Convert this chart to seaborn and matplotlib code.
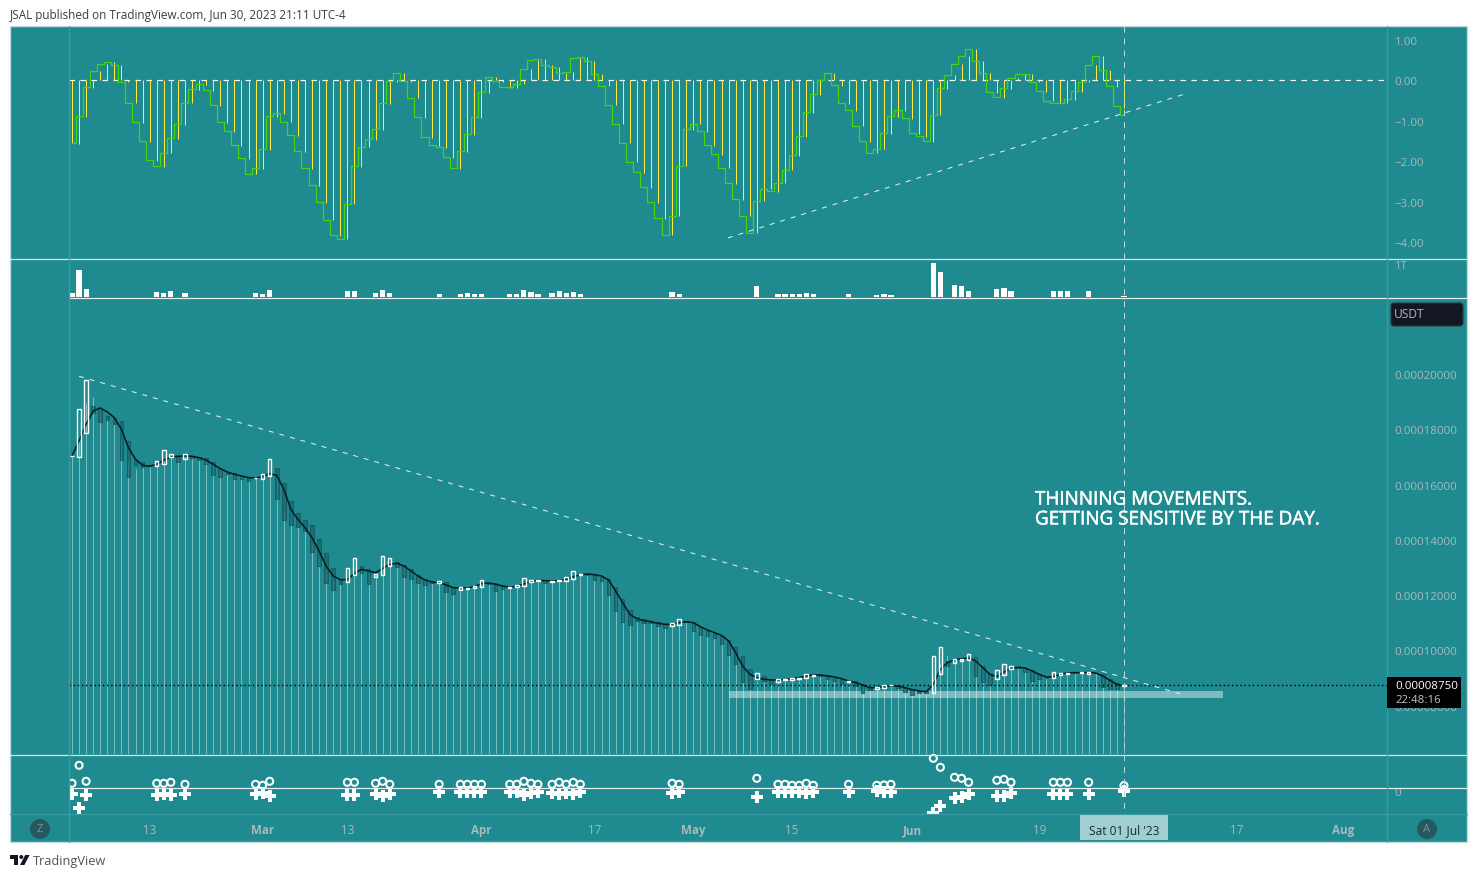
import numpy as np
import matplotlib
matplotlib.use("Agg")
import matplotlib.pyplot as plt
import matplotlib.patheffects as pe
import seaborn as sns
from matplotlib.lines import Line2D
from matplotlib.patches import Rectangle, FancyBboxPatch, Polygon
from matplotlib.transforms import Affine2D

# ---------- data ----------
OSC_LINE = [-1.56,-0.89,-0.17,0.22,0.40,0.45,0.37,-0.05,-0.55,-1.04,-1.51,-1.98,-2.13,-1.79,-1.44,-1.09,-0.55,-0.22,-0.10,-0.25,
 -0.62,-1.04,-1.26,-1.61,-1.93,-2.31,-2.18,-1.71,-0.89,-0.82,-1.02,-1.36,-1.76,-2.18,-2.60,-3.02,-3.45,-3.84,-3.92,-3.05,
 -2.13,-1.64,-1.46,-1.21,-0.57,-0.02,0.17,-0.02,-0.45,-0.92,-1.41,-1.61,-1.66,-1.91,-2.18,-1.76,-1.34,-0.92,-0.30,0.07,
 -0.02,-0.17,-0.17,-0.10,0.27,0.50,0.52,0.37,0.32,0.17,0.20,0.55,0.57,0.47,0.15,-0.15,-0.60,-1.07,-1.54,-2.01,
 -2.28,-2.65,-3.02,-3.42,-3.82,-3.35,-2.11,-1.21,-1.07,-1.26,-1.61,-1.83,-2.16,-2.55,-2.95,-3.35,-3.77,-2.98,-2.68,-2.75,
 -2.53,-2.21,-1.86,-1.39,-0.79,-0.35,0.00,0.17,-0.12,-0.57,-0.74,-1.12,-1.51,-1.79,-1.69,-1.31,-0.89,-0.74,-0.94,-1.31,
 -1.39,-1.51,-0.86,-0.20,0.12,0.40,0.60,0.77,0.47,0.17,-0.30,-0.42,-0.20,0.05,0.16,0.16,-0.03,-0.27,-0.50,-0.55,
 -0.55,-0.47,-0.27,-0.03,0.37,0.60,0.25,-0.15,-0.64,-0.86]
OSC_BARS = [-1.54,-1.57,-0.90,-0.19,0.23,0.40,0.45,0.38,-0.05,-0.55,-1.05,-1.52,-1.99,-2.14,-1.80,-1.45,-1.10,-0.55,-0.23,-0.11,
 -0.26,-0.63,-1.05,-1.27,-1.62,-1.94,-2.32,-2.19,-1.72,-0.90,-0.83,-1.03,-1.37,-1.77,-2.19,-2.61,-3.03,-3.45,-3.85,-3.93,
 -3.06,-2.14,-1.65,-1.47,-1.22,-0.58,-0.03,0.17,-0.03,-0.45,-0.93,-1.42,-1.62,-1.67,-1.92,-2.19,-1.77,-1.35,-0.93,-0.31,
 0.07,-0.03,-0.18,-0.18,-0.10,0.27,0.50,0.52,0.37,0.32,0.17,0.20,0.55,0.57,0.47,0.15,-0.15,-0.61,-1.08,-1.55,
 -2.02,-2.29,-2.66,-3.03,-3.43,-3.83,-3.36,-2.12,-1.22,-1.08,-1.27,-1.62,-1.84,-2.17,-2.56,-2.96,-3.36,-3.78,-2.99,-2.69,
 -2.76,-2.54,-2.22,-1.87,-1.40,-0.80,-0.36,0.00,0.17,-0.13,-0.58,-0.75,-1.13,-1.52,-1.80,-1.70,-1.32,-0.90,-0.75,-0.95,
 -1.32,-1.40,-1.52,-0.87,-0.21,0.12,0.40,0.60,0.77,0.47,0.17,-0.31,-0.43,-0.21,0.05,0.16,0.16,-0.04,-0.28,-0.50,
 -0.55,-0.55,-0.48,-0.28,-0.04,0.37,0.60,0.25,-0.16,-0.68]

VOL_DAYS = [0,1,2,12,13,14,16,26,27,28,39,40,43,44,45,52,55,56,57,58,62,63,64,65,66,68,69,70,71,72,85,86,97,
            100,101,102,103,104,105,110,114,115,116,122,123,125,126,127,131,132,133,139,140,141,144,149]
VOL_T = [.12,.79,.24,.15,.12,.18,.12,.12,.09,.21,.18,.18,.12,.21,.12,.09,.09,.12,.09,.09,.09,.09,.21,.15,.09,.12,.18,.12,.15,.09,.15,.09,.33,
         .09,.09,.09,.09,.12,.09,.09,.06,.09,.06,1.03,.73,.36,.33,.18,.24,.27,.18,.18,.18,.18,.18,.03]

CANDLE_OPEN = [17025,17018,17888,18864,18780,18502,18429,18321,17596,16944,16835,16726,16678,16750,17004,17016,16944,17040,17016,16968,
 16823,16581,16460,16436,16328,16255,16225,16219,16315,16617,16074,15421,14987,14733,14552,14044,13537,12993,12595,12474,
 12728,13054,12957,12655,12729,13056,13201,13080,12935,12717,12597,12488,12440,12488,12282,12186,12228,12258,12295,12452,
 12452,12343,12264,12295,12331,12476,12518,12548,12482,12515,12512,12584,12732,12778,12741,12657,12597,12307,11872,11473,
 11207,11147,11062,11026,10954,10881,10917,11050,11026,10845,10700,10603,10519,10374,10132,9806,9335,8961,9070,8949,
 8852,8931,8925,8967,8997,9076,9130,9094,9046,8949,8859,8889,8768,8647,8611,8635,8732,8732,8647,8587,
 8526,8514,8454,9142,9613,9553,9625,9662,9758,9432,9130,8961,9106,9323,9384,9360,9287,9130,9046,8997,
 9118,9154,9191,9185,9142,9191,9154,8949,8828,8720]
CANDLE_CLOSE = [17055,18757,19808,18599,18272,18345,18200,16895,16291,16714,16641,16666,16859,17270,17125,16823,17113,16968,16895,16750,
 16340,16279,16376,16195,16195,16134,16260,16400,16944,15482,14721,14540,14467,14310,13561,13054,12438,12184,12401,12993,
 13356,12800,12401,12776,13430,13358,13019,12657,12572,12427,12367,12440,12524,12113,12041,12307,12264,12343,12560,12391,
 12150,12222,12300,12379,12633,12560,12554,12440,12518,12533,12669,12886,12750,12729,12548,12512,12005,11425,11026,10917,
 11062,10990,11002,10869,10809,11002,11147,11026,10700,10543,10507,10446,10217,9830,9504,8852,8598,9191,8889,8780,
 8973,8967,9009,9003,9154,9112,9070,8949,8889,8780,8895,8707,8466,8562,8683,8744,8756,8635,8490,8381,
 8466,8466,9807,10133,9432,9698,9698,9879,9070,8852,8756,9299,9517,9444,9360,9215,8889,8973,8997,9227,
 9191,9178,9179,9197,9227,9166,8683,8611,8611,8750]
EMA = [17040,17584,18188,18671,18780,18635,18429,18007,17342,16919,16702,16666,16738,16883,17004,17028,17040,17028,16980,16895,
 16738,16581,16460,16376,16315,16255,16243,16291,16400,16340,15832,15107,14745,14443,14080,13597,13054,12691,12558,12558,
 12788,12933,12873,12812,12959,13116,13152,13056,12874,12693,12548,12476,12452,12367,12270,12258,12258,12307,12415,12440,
 12391,12331,12282,12319,12403,12488,12536,12524,12512,12524,12572,12669,12729,12766,12741,12693,12548,12150,11727,11304,
 11147,11074,11038,10978,10942,10942,11002,11038,11002,10857,10736,10640,10543,10338,9915,9431,9130,9009,8949,8925,
 8925,8937,8973,9009,9070,9106,9106,9070,9034,8973,8889,8828,8744,8647,8647,8683,8719,8707,8647,8575,
 8526,8502,8768,9311,9553,9650,9698,9722,9613,9372,9130,9046,9215,9348,9384,9360,9251,9130,9034,9046,
 9130,9179,9191,9191,9191,9179,9070,8913,8768,8695]
COLUMN_TOP = [16990,17705,18973,19190,18792,18369,18188,17644,16859,16557,16680,16660,16700,16900,17100,16980,17040,17028,16960,16860,
 16700,16520,16400,16340,16280,16225,16225,16250,16380,16300,15000,14700,14500,14320,13900,13400,12900,12500,12440,12500,
 12700,12860,12830,12700,13000,13080,13152,13000,12800,12620,12500,12450,12430,12300,12210,12220,12240,12270,12380,12400,
 12350,12300,12270,12300,12380,12470,12520,12500,12490,12510,12540,12620,12735,12760,12700,12620,12500,12000,11450,11000,
 11100,11040,11020,10950,10910,10900,10950,11040,10950,10790,10700,10600,10480,10200,9800,9200,8900,8880,8900,8880,
 8900,8930,8950,8990,9040,9080,9080,9040,8990,8930,8860,8790,8700,8620,8620,8650,8700,8680,8600,8540,
 8500,8490,9009,9553,9819,9650,9660,9700,9760,9300,9060,9000,9170,9320,9370,9340,9210,9090,9010,9010,
 9110,9160,9180,9180,9170,9170,9000,8870,8740,8690]

MARK_DAYS = [0,1,2,12,13,14,16,26,27,28,39,40,43,44,45,52,55,56,57,58,62,63,64,65,66,68,69,70,71,72,85,86,97,
             100,101,102,103,104,105,110,114,115,116,122,123,125,126,127,131,132,133,139,140,141,144,149]
MARK_RING = [4,22,6,4,4,5,3,3,2,6,5,5,4,6,3,3,3,3,3,3,3,3,6,4,3,3,5,3,5,3,4,3,9,
             3,3,2,2,4,2,3,2,2.3,3,29,20,10,9,5,7,8,5,5,5,5,5,1.7]
MARK_PLUS = [-6.7,-20.7,-7.7,-7.7,-6.7,-7.7,-6.7,-6.7,-5.7,-8.7,-7.7,-7.7,-6.7,-8.7,-6.7,-5,-5,-5,-5,-5,-5,-5,-7.3,-6,-5,-6,-7,-6,-7,-5,-6,-5,-9.3,
             -5,-5,-5,-5,-6,-5,-5,-3.3,-4.3,-5,-25.7,-18.3,-10.7,-9.7,-6.7,-8.3,-9,-6,-6.7,-6.7,-6.7,-6.7,-3.3]

OSC_TICKS = [1, 0, -1, -2, -3, -4]
OSC_LABELS = ["1.00", "0.00", "\u22121.00", "\u22122.00", "\u22123.00", "\u22124.00"]
PRICE_TICKS = [8000, 10000, 12000, 14000, 16000, 18000, 20000]
TIME_TICKS = [11, 27, 39, 58, 74, 88, 102, 119, 137, 149, 165, 180]
TIME_LABELS = ["13", "Mar", "13", "Apr", "17", "May", "15", "Jun", "19", "Jul", "17", "Aug"]
MONTHS = {"Mar", "Apr", "May", "Jun", "Jul", "Aug"}
LAST_PRICE = 8750

TEAL = "#1f8a90"
PALE = "#cfe6e8"
FAINT = "#3f9a9f"
TICK = "#a7babc"
YELLOW = "#ffec3d"
GREEN = "#43d30f"
W, H = 1477, 879

sns.set_theme(style="white")
plt.rcParams["font.family"] = ["Open Sans", "DejaVu Sans"]
plt.rcParams["lines.scale_dashes"] = False
plt.rcParams["axes.unicode_minus"] = False

fig = plt.figure(figsize=(W / 100, H / 100), dpi=100, facecolor="white")
PX = Affine2D().scale(1 / W, -1 / H).translate(0, 1) + fig.transFigure


def pane(y0, y1, ylim):
    ax = fig.add_axes([69 / W, 1 - y1 / H, (1387 - 69) / W, (y1 - y0) / H])
    ax.set_facecolor("none")
    for s in ax.spines.values():
        s.set_visible(False)
    ax.set_xlim((69 - 72) / 7.06, (1387 - 72) / 7.06)
    ax.set_ylim(*ylim)
    ax.set_xticks([])
    ax.yaxis.tick_right()
    ax.tick_params(axis="y", length=0, pad=5.6, labelsize=8.25, labelcolor=TICK)
    return ax


def rect(x0, y0, x1, y1, **kw):
    fig.add_artist(Rectangle((x0, y0), x1 - x0, y1 - y0, transform=PX, **kw))


def line(xs, ys, **kw):
    fig.add_artist(Line2D(xs, ys, transform=PX, **kw))


def text(x, y, s, **kw):
    return fig.text(x / W, 1 - y / H, s, **kw)


# backdrop
rect(10, 27, 1467, 843.5, facecolor=TEAL, edgecolor="#c3dcde", lw=1.0, zorder=-1)

ax_osc = pane(27, 259, (-4.398, 1.344))
ax_vol = pane(259, 298, (0, 39 / 33))
ax_main = pane(298, 755, (6243, 22800))
ax_mark = pane(755, 815, (-26.7, 33.3))

days = np.arange(len(OSC_LINE))

# oscillator
ax_osc.vlines(days, 0, OSC_BARS, color=YELLOW, lw=0.72, zorder=2)
sns.lineplot(x=days, y=OSC_LINE, ax=ax_osc, color=GREEN, lw=0.9, drawstyle="steps-mid",
             estimator=None, errorbar=None, zorder=3)
ax_osc.axhline(0, color="white", lw=0.85, ls=(0, (3.96, 3.96)), zorder=1)
ax_osc.plot([92.9, 157.6], [-3.90, -0.34], color="#dfeced", lw=0.75, ls=(0, (3.6, 4.3)), zorder=4)
ax_osc.set_ylabel("")
ax_osc.set_yticks(OSC_TICKS, OSC_LABELS)

# volume
sns.barplot(x=VOL_DAYS, y=VOL_T, ax=ax_vol, native_scale=True, color="white", saturation=1,
            width=0.74, errorbar=None, linewidth=0)
ax_vol.set_xlim((69 - 72) / 7.06, (1387 - 72) / 7.06)
ax_vol.set_ylim(-0.015, 39 / 33 - 0.015)
ax_vol.set_xticks([])
ax_vol.set_yticks([1], ["1T"])
ax_vol.set_ylabel("")

# price pane
ax_main.vlines(days, 6243, COLUMN_TOP, color="white", alpha=0.42, lw=0.72, zorder=1)
ax_main.fill_between([93, 163], 8270, 8515, color="white", alpha=0.42, lw=0, zorder=2)
op = np.array(CANDLE_OPEN, float)
cl = np.array(CANDLE_CLOSE, float)
up = cl >= op
ax_main.bar(days[~up], (op - cl)[~up], bottom=cl[~up], width=0.5, facecolor="#1a666b", edgecolor="#14565b",
            lw=0.75, alpha=0.75, zorder=3)
ax_main.bar(days[up], (cl - op)[up], bottom=op[up], width=0.5, facecolor="none", edgecolor="white",
            lw=1.0, zorder=5)
sns.lineplot(x=days, y=EMA, ax=ax_main, color="#051c1f", lw=1.1, estimator=None, errorbar=None, zorder=4)
ax_main.axhline(LAST_PRICE, color="black", lw=1.0, ls=(0, (1, 2)), zorder=4)
ax_main.plot([1, 157.2], [19928, 8406], color="#dfeced", lw=0.75, ls=(0, (3.6, 4.3)), zorder=6)
ax_main.set_ylabel("")
ax_main.set_yticks(PRICE_TICKS, [f"{p * 1e-8:.8f}" for p in PRICE_TICKS])

# markers
sns.scatterplot(x=MARK_DAYS, y=MARK_PLUS, ax=ax_mark, marker="P", s=74, color="white", linewidth=0, zorder=3)
ax_mark.scatter(MARK_DAYS, MARK_RING, marker="o", s=26, facecolors="none", edgecolors="white",
                linewidths=1.45, zorder=3)
ax_mark.set_ylabel("")
ax_mark.set_yticks([0], ["0"])
for lab in ax_mark.get_yticklabels():
    lab.set_verticalalignment("top")
ax_mark.set_xticks(TIME_TICKS, TIME_LABELS)
ax_mark.tick_params(axis="x", length=0, pad=6.5, labelsize=8.4, labelcolor=TICK, bottom=True, labelbottom=True)
for lab in ax_mark.get_xticklabels():
    if lab.get_text() in MONTHS:
        lab.set_fontweight("bold")

# pane furniture
for y in (259.5, 755.5):
    line([10, 1467], [y, y], color=PALE, lw=0.9, zorder=1)
for y in (298.5, 789):
    line([69, 1467], [y, y], color="#e4eeef", lw=0.9, zorder=1)
line([10, 1467], [815.5, 815.5], color=FAINT, lw=0.9, zorder=1)
line([69, 69], [27, 843], color=FAINT, lw=0.9, zorder=1)
line([1387, 1387], [27, 843], color=FAINT, lw=0.9, zorder=1)
line([1124, 1124], [27, 816], color="#b9d9db", lw=0.72, ls=(0, (4.3, 4.3)), zorder=1)

# annotation
t = text(1035, 510.5, "THINNING MOVEMENTS.\nGETTING SENSITIVE BY THE DAY.", color="white", fontsize=13.6,
         va="center", ha="left", linespacing=1.13, zorder=4)
t.set_path_effects([pe.withStroke(linewidth=0.35, foreground="white")])

# price tag and unit box
rect(1387, 678, 1461, 709, facecolor="black", edgecolor="none", zorder=2)
text(1395, 687, "0.00008750", color="white", fontsize=8.25, va="center", zorder=3)
text(1395, 701, "22:48:16", color="#c0c4c6", fontsize=8.25, va="center", zorder=3)
fig.add_artist(FancyBboxPatch((1391, 304), 72, 23, boxstyle="round,pad=0,rounding_size=3", transform=PX,
                              facecolor="#131722", edgecolor="#2a3a44", lw=0.8, zorder=2))
text(1394, 315, "USDT", color="#b2b5be", fontsize=8.6, va="center", zorder=3)

# crosshair date label
rect(1080, 816, 1168, 841, facecolor="#a0cfd2", edgecolor="none", zorder=2)
text(1124, 830.5, "Sat 01 Jul '23", color="#1b2a2e", fontsize=8.6, ha="center", va="center", zorder=3)

# round buttons
for cx, ch in ((40, "Z"), (1427, "A")):
    fig.add_artist(Polygon(np.column_stack([cx + 10 * np.cos(np.linspace(0, 2 * np.pi, 60)),
                                            830 + 10 * np.sin(np.linspace(0, 2 * np.pi, 60))]),
                           closed=True, transform=PX, facecolor="#25595f", edgecolor="none", zorder=2))
    text(cx, 830, ch, color="#7e8f92", fontsize=8.2, ha="center", va="center", zorder=3)

# header and footer
text(10, 15, "JSAL published on TradingView.com, Jun 30, 2023 21:11 UTC-4", color="#3a3d46", fontsize=8.5,
     va="center", ha="left")
text(33, 862, "TradingView", color="#50535e", fontsize=9.2, va="center", ha="left")
fig.add_artist(Polygon([(10, 856), (18.3, 856), (18.3, 866), (14.4, 866), (14.4, 860), (10, 860)], closed=True,
                       transform=PX, facecolor="#131722", edgecolor="none"))
fig.add_artist(Polygon([(25.2, 856), (29.6, 856), (24.4, 866), (20, 866)], closed=True, transform=PX,
                       facecolor="#131722", edgecolor="none"))
fig.add_artist(Polygon(np.column_stack([21.3 + 2 * np.cos(np.linspace(0, 2 * np.pi, 24)),
                                        858 + 2 * np.sin(np.linspace(0, 2 * np.pi, 24))]),
                       closed=True, transform=PX, facecolor="#131722", edgecolor="none"))

fig.savefig("out.png", dpi=100)
